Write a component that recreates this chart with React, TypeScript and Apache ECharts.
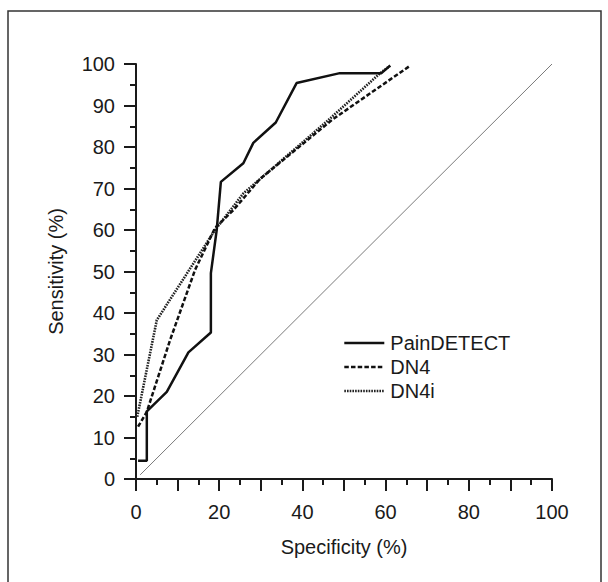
import React, { useEffect, useRef } from "react";
import * as echarts from "echarts";

const seriesNames = ["PainDETECT", "DN4", "DN4i"];

const painDetect: [number, number][] = [
  [0.5, 4.4], [2.6, 4.4], [2.6, 16.3], [7.4, 21.0], [12.6, 30.5], [18.0, 35.3],
  [18.0, 49.6], [19.4, 60.0], [20.4, 71.6], [25.8, 76.1], [28.2, 81.0],
  [33.6, 85.9], [38.6, 95.4], [49.0, 97.8], [59.0, 97.8], [61.1, 99.6],
];

const dn4: [number, number][] = [
  [0.5, 12.6], [2.6, 16.2], [8.2, 33.5], [14.2, 50.4], [19.0, 60.5],
  [23.4, 64.8], [29.8, 72.3], [47.2, 86.6], [65.9, 99.6],
];

const dn4i: [number, number][] = [
  [0.3, 15.0], [5.0, 38.3], [19.0, 60.0], [25.8, 68.8], [45.8, 86.1],
  [58.7, 97.8], [61.1, 99.6],
];

const chance: [number, number][] = [[1, 1], [100, 100]];

const font = "'Liberation Sans', Arial, Helvetica, sans-serif";
const ink = "#1a1a1a";

const solidStyle = { color: "#111", width: 2.5, type: "solid" as any };
const dashStyle = { color: "#111", width: 2.5, type: [4.5, 2.2] as any };
const dotStyle = { color: "#222", width: 2.6, type: [1.6, 1.1] as any };

export default function App() {
  const ref = useRef<HTMLDivElement>(null);

  useEffect(() => {
    if (!ref.current) return;
    const chart = echarts.init(ref.current, null, { renderer: "svg" });

    const axisCommon = {
      type: "value" as const,
      min: 0,
      max: 100,
      interval: 10,
      splitLine: { show: false },
      axisLine: { show: true, lineStyle: { color: ink, width: 2 } },
      axisTick: { show: true, length: 12, lineStyle: { color: ink, width: 2 } },
      minorTick: { show: true, splitNumber: 2, length: 6, lineStyle: { color: ink, width: 2 } },
      minorSplitLine: { show: false },
      nameTextStyle: { color: ink, fontSize: 20, fontFamily: font },
    };

    chart.setOption({
      animation: false,
      backgroundColor: "#ffffff",
      textStyle: { fontFamily: font },
      graphic: [
        {
          type: "rect",
          shape: { x: 8, y: 11, width: 593, height: 600 },
          style: { fill: "none", stroke: "#333", lineWidth: 1.5 },
          silent: true,
        },
      ],
      grid: { left: 136, top: 64, right: 56, bottom: 103, containLabel: false },
      xAxis: {
        ...axisCommon,
        name: "Specificity (%)",
        nameLocation: "middle",
        nameGap: 58,
        axisLabel: {
          color: ink,
          fontSize: 20,
          fontFamily: font,
          margin: 23,
          formatter: (v: number) => (v % 20 === 0 ? String(v) : ""),
        },
      },
      yAxis: {
        ...axisCommon,
        name: "Sensitivity (%)",
        nameLocation: "middle",
        nameGap: 70,
        axisLabel: { color: ink, fontSize: 20, fontFamily: font, margin: 21 },
      },
      legend: {
        data: [
          { name: seriesNames[0], lineStyle: solidStyle },
          { name: seriesNames[1], lineStyle: dashStyle },
          { name: seriesNames[2], lineStyle: dotStyle },
        ],
        orient: "vertical",
        left: 338,
        top: 328,
        itemWidth: 40,
        itemHeight: 14,
        itemGap: 4,
        itemStyle: { color: "transparent", borderWidth: 0, opacity: 0 },
        textStyle: { color: ink, fontSize: 20, fontFamily: font, padding: [0, 0, 0, 1] },
        inactiveColor: "#ccc",
      },
      series: [
        {
          name: "chance",
          type: "line",
          data: chance,
          symbol: "none",
          silent: true,
          lineStyle: { color: "#7a7a7a", width: 1 },
          z: 1,
        },
        {
          name: seriesNames[0],
          type: "line",
          data: painDetect,
          symbol: "none",
          color: "#111",
          lineStyle: solidStyle,
          z: 4,
        },
        {
          name: seriesNames[1],
          type: "line",
          data: dn4,
          symbol: "none",
          color: "#111",
          lineStyle: dashStyle,
          z: 3,
        },
        {
          name: seriesNames[2],
          type: "line",
          data: dn4i,
          symbol: "none",
          color: "#222",
          lineStyle: dotStyle,
          z: 2,
        },
      ],
    });

    return () => chart.dispose();
  }, []);

  return (
    <div
      ref={ref}
      style={{ position: "fixed", left: 0, top: 0, width: 608, height: 582, background: "#fff" }}
    />
  );
}
